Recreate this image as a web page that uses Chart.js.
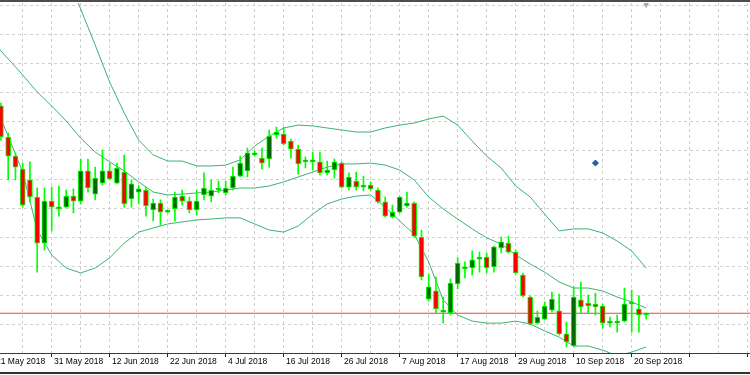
<!DOCTYPE html>
<html lang="en">
<head>
<meta charset="UTF-8">
<title>Daily candles with Bollinger Bands</title>
<script src="https://cdn.jsdelivr.net/npm/chart.js"></script>
<style>
  html, body { margin: 0; padding: 0; background: #fff; }
  #wrap { width: 750px; height: 375px; }
</style>
</head>
<body>
<div id="wrap"><canvas id="chart" width="750" height="375"></canvas></div>
<script>
// date label every 8 bars, starting at bar 0
const dateLabels = ['21 May 2018', '31 May 2018', '12 Jun 2018', '22 Jun 2018', '4 Jul 2018', '16 Jul 2018',
                    '26 Jul 2018', '7 Aug 2018', '17 Aug 2018', '29 Aug 2018', '10 Sep 2018', '20 Sep 2018'];

// candles for bars 1..90
const opens = [85.2, 74.5, 67.9, 63.4, 59.7, 53.8, 37.9, 52.4, 50.3, 50.3,
               54.1, 52.4, 62.8, 54.8, 58.6, 62.8, 58.6, 62.4, 53.1, 55.5,
               56.2, 49.3, 51.7, 48.6, 49.7, 54.1, 52.4, 49.3, 54.5, 54.1,
               56.2, 55.2, 56.9, 61.0, 62.8, 68.3, 67.2, 66.9, 75.2, 75.5,
               73.1, 70.3, 65.9, 65.9, 65.9, 62.1, 63.1, 65.5, 57.2, 59.3,
               57.2, 57.9, 56.2, 52.1, 46.9, 48.6, 50.7, 51.7, 40.0, 18.6,
               21.4, 14.1, 13.8, 23.8, 29.0, 29.3, 32.4, 33.1, 29.7, 36.2,
               37.9, 34.8, 26.9, 19.3, 10.3, 11.7, 14.8, 14.5, 6.6, 2.4,
               18.3, 17.2, 16.9, 16.2, 10.3, 10.3, 11.0, 16.9, 15.2, 13.1];
const highs = [86.2, 75.9, 69.0, 65.5, 65.9, 56.9, 56.9, 57.2, 57.6, 56.2,
               56.6, 66.9, 66.9, 64.1, 70.0, 65.5, 65.5, 68.3, 59.7, 57.6,
               57.2, 53.1, 52.8, 49.3, 55.5, 56.2, 53.8, 56.2, 62.1, 59.7,
               59.3, 59.3, 64.1, 67.9, 70.7, 69.7, 70.7, 76.9, 77.9, 77.9,
               73.8, 71.7, 67.6, 69.3, 69.3, 66.2, 66.9, 65.9, 62.1, 62.4,
               61.0, 59.0, 56.9, 53.8, 51.0, 54.1, 55.5, 52.1, 42.4, 27.2,
               26.2, 19.3, 25.5, 32.8, 31.4, 35.2, 34.8, 34.5, 36.9, 40.0,
               40.3, 35.5, 27.6, 19.7, 14.5, 17.6, 21.0, 20.3, 10.7, 22.8,
               24.5, 20.0, 20.7, 16.9, 12.4, 13.1, 22.4, 21.7, 19.7, 13.8];
const lows = [73.4, 59.7, 59.7, 50.3, 52.1, 27.9, 35.5, 42.1, 47.2, 50.0,
              48.3, 51.4, 55.5, 52.8, 57.9, 59.7, 58.3, 50.3, 50.3, 51.4,
              47.2, 45.5, 44.1, 48.3, 45.5, 51.0, 48.3, 47.6, 52.8, 52.1,
              55.2, 54.5, 56.2, 60.7, 60.7, 67.9, 63.4, 64.1, 74.1, 71.7,
              67.2, 61.7, 63.8, 63.1, 61.4, 61.4, 60.3, 56.9, 56.2, 56.2,
              55.9, 56.2, 51.7, 46.9, 46.6, 48.3, 50.3, 40.0, 25.2, 17.9,
              13.8, 10.3, 13.1, 22.1, 25.9, 26.9, 27.9, 27.6, 27.9, 34.5,
              34.5, 27.2, 19.3, 9.7, 10.0, 11.4, 14.1, 6.2, 2.1, 2.1,
              13.8, 13.8, 13.1, 8.6, 9.0, 7.2, 10.7, 7.2, 7.2, 11.7];
const closes = [74.5, 67.9, 64.1, 51.0, 53.8, 37.9, 52.4, 50.3, 49.7, 54.1,
                52.4, 62.8, 56.9, 60.3, 62.8, 60.0, 63.8, 51.4, 58.3, 56.6,
                50.7, 51.7, 48.6, 49.0, 53.8, 52.4, 49.3, 52.4, 56.9, 56.2,
                56.6, 56.9, 61.0, 65.5, 69.0, 69.0, 65.5, 74.8, 76.2, 72.1,
                70.3, 65.2, 66.2, 66.2, 62.1, 63.1, 65.9, 57.2, 60.7, 57.2,
                57.6, 56.6, 52.1, 47.2, 48.6, 53.8, 51.7, 40.3, 26.2, 22.8,
                15.2, 14.5, 24.1, 31.0, 29.7, 32.1, 33.1, 29.3, 36.6, 38.3,
                34.8, 27.6, 19.7, 10.0, 12.4, 16.2, 18.6, 6.6, 3.8, 19.3,
                15.9, 16.2, 15.9, 10.3, 10.7, 11.0, 16.9, 17.6, 13.1, 13.7];

// Bollinger bands, read every second bar
const bandBars = [0, 2, 4, 6, 8, 10, 12, 14, 16, 18, 20, 22, 24, 26, 28, 30, 32, 34, 36, 38, 40, 42, 44,
                  46, 48, 50, 52, 54, 56, 58, 60, 62, 64, 66, 68, 70, 72, 74, 76, 78, 80, 82, 84, 86, 88, 90];
const upperBand = [null, null, null, null, null, 131.0, 118.6, 106.2, 93.4, 82.8, 73.4, 68.3, 66.2, 66.2,
                   64.5, 64.5, 64.8, 66.6, 71.4, 74.8, 77.6, 78.6, 78.3, 77.6, 76.9, 76.2, 76.2, 77.6,
                   78.6, 79.3, 80.7, 81.7, 78.6, 73.1, 67.9, 63.8, 57.6, 53.8, 47.9, 42.1, 42.8, 42.8,
                   41.4, 38.6, 35.2, 29.3];
const middleBand = [106.9, 101.4, 95.9, 90.0, 85.2, 80.0, 74.1, 69.3, 65.9, 62.8, 59.0, 55.5, 54.5, 54.8,
                    55.2, 55.5, 56.2, 56.9, 56.9, 57.6, 59.0, 60.7, 62.4, 64.1, 65.2, 65.2, 65.5, 64.8,
                    63.1, 59.7, 53.8, 49.7, 46.2, 42.8, 39.7, 37.6, 33.8, 30.7, 27.9, 24.5, 22.4, 22.4,
                    21.4, 19.3, 17.6, 15.5];
const lowerBand = [86.6, 74.8, 62.4, 42.4, 33.8, 29.3, 27.6, 29.3, 32.8, 37.9, 41.7, 43.1, 44.5, 45.2,
                   45.9, 46.2, 46.6, 46.6, 44.5, 42.4, 41.7, 43.8, 47.9, 51.4, 53.1, 54.1, 54.5, 50.3,
                   45.5, 41.0, 31.4, 18.3, 13.1, 11.0, 10.3, 10.3, 11.0, 10.0, 7.6, 5.5, 2.4, 2.4,
                   1.0, -1.0, 0.3, 2.1];

const bidPrice = 13.7;
const signal = { bar: 83, price: 65.5 };
const priceGrid = [10, 20, 30, 40, 50, 60, 70, 80, 90, 100, 110, 120];

const X_MIN = 0.87, X_MAX = 104.32;
const Y_MIN = 0, Y_MAX = 120.7;

const bull = '#006a00', bear = '#ff0000', lime = '#00ff00', bandColor = '#3cb371';

const band = vals => bandBars.map((b, i) => ({ x: b, y: vals[i] }));
const bars = opens.map((o, i) => ({ x: i + 1, o: o, h: highs[i], l: lows[i], c: closes[i] }));

const gridBars = [];
for (let b = 0; b <= 104; b += 4) gridBars.push(b);

const framePlugin = {
  id: 'frame',
  beforeDraw(chart) {
    const { ctx, width, height } = chart;
    ctx.save();
    ctx.fillStyle = '#fff';
    ctx.fillRect(0, 0, width, height);
    ctx.restore();
  },
  afterDraw(chart) {
    const { ctx, width } = chart;
    ctx.save();
    ctx.fillStyle = '#4d4d4d';
    ctx.fillRect(0, 0, width, 2);
    ctx.fillStyle = '#333';
    ctx.fillRect(0, 372, width, 2);
    ctx.restore();
  }
};

new Chart(document.getElementById('chart'), {
  type: 'bar',
  data: {
    datasets: [
      { type: 'line', label: 'Upper', data: band(upperBand), borderColor: bandColor, borderWidth: 1,
        pointRadius: 0, tension: 0, clip: 0, order: 6 },
      { type: 'line', label: 'Middle', data: band(middleBand), borderColor: bandColor, borderWidth: 1,
        pointRadius: 0, tension: 0, clip: 0, order: 6 },
      { type: 'line', label: 'Lower', data: band(lowerBand), borderColor: bandColor, borderWidth: 1,
        pointRadius: 0, tension: 0, clip: 0, order: 6 },
      { type: 'line', label: 'Bid', data: [{ x: X_MIN, y: bidPrice }, { x: X_MAX, y: bidPrice }],
        borderColor: '#ff3b3b', backgroundColor: '#ff3b3b', borderWidth: 1, pointRadius: 0,
        clip: 0, order: 5 },
      { type: 'bar', label: 'Wicks', data: bars.map(b => ({ x: b.x, y: [b.l, b.h] })),
        backgroundColor: lime, barThickness: 1, grouped: false, order: 4 },
      { type: 'bar', label: 'Bodies', data: bars.map(b => ({ x: b.x, y: [b.o, b.c] })),
        backgroundColor: bars.map(b => b.c >= b.o ? bull : bear),
        borderColor: lime, borderWidth: 1, borderSkipped: false,
        barThickness: 5, minBarLength: 2, grouped: false, order: 3 },
      { type: 'line', label: 'Signal', data: [{ x: signal.bar, y: signal.price }], showLine: false,
        pointStyle: 'rectRot', pointRadius: 3, backgroundColor: '#1f5fa8', borderColor: '#1f5fa8',
        borderWidth: 1, order: 2 },
      { type: 'line', label: 'Shift', data: [{ x: 90, y: Y_MAX }], showLine: false,
        pointStyle: 'triangle', pointRotation: 180, pointRadius: 5, backgroundColor: '#a8a8a8',
        borderWidth: 0, clip: 0, order: 1 }
    ]
  },
  options: {
    responsive: false,
    devicePixelRatio: 1,
    animation: false,
    layout: { autoPadding: false, padding: { top: 3, left: 0, right: 0, bottom: 0 } },
    plugins: { legend: { display: false }, tooltip: { enabled: false } },
    scales: {
      x: {
        type: 'linear', min: X_MIN, max: X_MAX, bounds: 'data', offset: false,
        afterBuildTicks: s => { s.ticks = gridBars.map(v => ({ value: v })); },
        afterFit: s => { s.height = 22; s.paddingLeft = 0; s.paddingRight = 0; },
        grid: {
          offset: false, color: '#d0d0d0', lineWidth: 1, drawTicks: true, tickLength: 4, tickWidth: 1,
          tickColor: c => (c.tick && c.tick.value % 8 === 0) ? '#222' : 'rgba(0,0,0,0)'
        },
        border: { display: true, color: '#3c3c3c', width: 1, dash: [3, 3] },
        ticks: {
          autoSkip: false, maxRotation: 0, minRotation: 0, align: 'start', padding: 0,
          color: '#000', font: { family: 'Liberation Sans', size: 8.5 },
          callback: v => (v % 8 === 0 && dateLabels[v / 8]) ? ' ' + dateLabels[v / 8] : ''
        }
      },
      y: {
        type: 'linear', min: Y_MIN, max: Y_MAX, bounds: 'data',
        afterBuildTicks: s => { s.ticks = priceGrid.map(v => ({ value: v })); },
        afterFit: s => { s.width = 0; s.paddingTop = 0; s.paddingBottom = 0; },
        ticks: { display: false },
        grid: { color: '#d0d0d0', drawTicks: false },
        border: { display: false, dash: [3, 3] }
      }
    }
  },
  plugins: [framePlugin]
});
</script>
</body>
</html>
